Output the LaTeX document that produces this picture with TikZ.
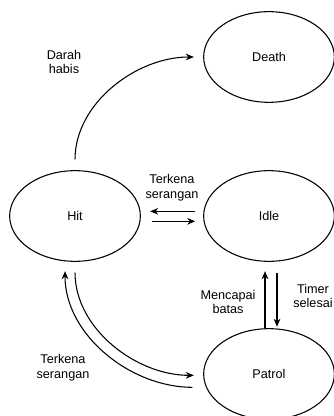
\documentclass[tikz,border=0pt]{standalone}
\usepackage{fontspec}
\setmainfont{Liberation Sans}
\usetikzlibrary{shapes.geometric, arrows.meta}

\begin{document}
\begin{tikzpicture}[x=0.75pt, y=-0.75pt,
	state/.style={ellipse, draw, line width=0.8pt, inner sep=0pt, minimum width=98pt, minimum height=68pt, font=\fontsize{9.5}{11}\selectfont},
	trans/.style={-{Stealth[length=6pt, width=5pt]}, line width=0.8pt, shorten <=8pt, shorten >=7pt},
	lbl/.style={align=center, font=\fontsize{9.5}{11}\selectfont}]
	\useasboundingbox (0,0) rectangle (334,416);
	
	% Zustaende
	\node[state] (death) at (269,57) {Death};
	\node[state] (hit) at (75,216) {Hit};
	\node[state] (idle) at (269,216) {Idle};
	\node[state] (patrol) at (269,374) {Patrol};
	
	% Hit -> Death
	\draw[trans] (hit.north) to[out=90, in=180] (death.west);
	\node[lbl] (darah) at (64,62) {Darah\\habis};
	
	% Hit <-> Idle
	\draw[trans, shorten <=6pt] ([yshift=3.5pt]idle.west) -- ([yshift=3.5pt]hit.east);
	\draw[trans, shorten >=6pt] ([yshift=-4pt]hit.east) -- ([yshift=-4pt]idle.west);
	\node[lbl] (terkena1) at (172,188) {Terkena\\serangan};
	
	% Idle <-> Patrol
	\draw[trans, shorten <=0pt] ([xshift=-3pt]patrol.north) -- ([xshift=-3pt]idle.south);
	\draw[trans, shorten >=1pt] ([xshift=6pt]idle.south) -- ([xshift=6pt]patrol.north);
	\node[lbl] (mencapai) at (228,302) {Mencapai\\batas};
	\node[lbl] (timer) at (313,296) {Timer\\selesai};
	
	% Hit <-> Patrol
	\draw[trans] (hit.south) to[out=-90, in=180] ([yshift=-1pt]patrol.west);
	\draw[trans, shorten <=8pt] ([yshift=-10pt]patrol.west) to[out=180, in=-90] ([xshift=-7.5pt]hit.south);
	\node[lbl] (terkena2) at (63,368) {Terkena\\serangan};
\end{tikzpicture}
\end{document}
